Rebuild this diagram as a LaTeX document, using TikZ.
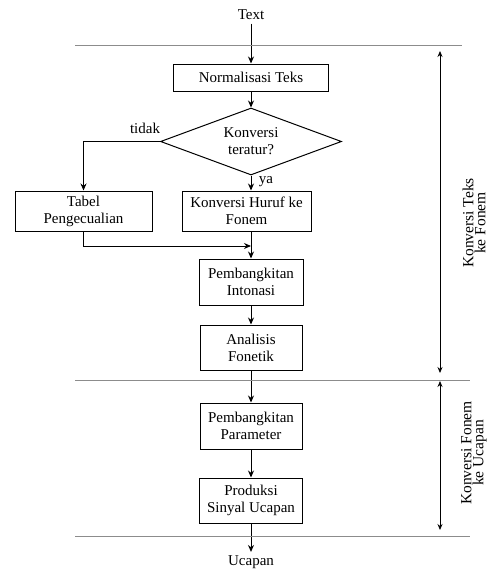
\documentclass[tikz,border=0pt]{standalone}
\usepackage{fontspec}
\setmainfont{Liberation Serif}
\usetikzlibrary{shapes.geometric,arrows.meta}
\definecolor{abu}{gray}{0.55}
\tikzset{
blok/.style={draw, rectangle, line width=1pt, align=center, inner sep=2pt},
panah/.style={-{Stealth[length=7pt,width=6pt]}, line width=1pt},
batas/.style={draw=abu, line width=0.9pt},
rentang/.style={{Stealth[length=6pt,width=5pt]}-{Stealth[length=6pt,width=5pt]}, line width=0.8pt}
}

\begin{document}
\begin{tikzpicture}[x=1pt, y=-1pt, font=\fontsize{15}{17}\selectfont]
\useasboundingbox (0,0) rectangle (495,570);

\node (text) at (251,15) {Text};
\node[blok, minimum width=155pt, minimum height=27pt, below of=text, node distance=62.5pt] (norm) {Normalisasi Teks};
\node[draw, diamond, aspect=2.7, line width=1pt, minimum width=181pt, minimum height=67pt, inner sep=0pt, align=center, below of=norm, node distance=64pt] (konv) {Konversi\\teratur?};
\node[blok, minimum width=129pt, minimum height=40pt, xshift=-4.5pt, below of=konv, node distance=69.5pt] (huruf) {Konversi Huruf ke\\Fonem};
\node[blok, minimum width=137pt, minimum height=40pt, left of=huruf, node distance=163pt] (tabel) {Tabel\\Pengecualian};
\node[blok, minimum width=104pt, minimum height=46pt, xshift=4.5pt, below of=huruf, node distance=71pt] (intonasi) {Pembangkitan\\Intonasi};
\node[blok, minimum width=102pt, minimum height=45pt, below of=intonasi, node distance=65.5pt] (fonetik) {Analisis\\Fonetik};
\node[blok, minimum width=102pt, minimum height=46pt, below of=fonetik, node distance=78.5pt] (parameter) {Pembangkitan\\Parameter};
\node[blok, minimum width=103pt, minimum height=45pt, below of=parameter, node distance=74.5pt] (produksi) {Produksi\\Sinyal Ucapan};
\node[below of=produksi, node distance=61.5pt] (ucapan) {Ucapan};

\node (tidak) at (145,128) {tidak};
\node (ya) at (266,182) {ya};
\coordinate (gabung) at (251,246);

\draw[panah] (text) -- (norm);
\draw[panah] (norm) -- (konv);
\draw[panah] (konv.south) -- (konv.south |- huruf.north);
\draw[panah] (konv.west) -| (tabel.north);
\draw[panah] (intonasi.north |- huruf.south) -- (intonasi);
\draw[panah] (tabel.south) |- (gabung);
\draw[panah] (intonasi) -- (fonetik);
\draw[panah] (fonetik) -- (parameter);
\draw[panah] (parameter) -- (produksi);
\draw[panah] (produksi) -- (ucapan);

\draw[batas] (75,45) -- (462,45);
\draw[batas] (75,380) -- (470,380);
\draw[batas] (75,536) -- (470,536);

\coordinate (t1) at (440,51);
\coordinate (t2) at (440,373);
\coordinate (t3) at (440,381);
\coordinate (t4) at (440,530);
\draw[rentang] (t1) -- (t2);
\draw[rentang] (t3) -- (t4);
\node[rotate=90, align=center, font=\fontsize{15.5}{12}\selectfont] (fase1) at (474,223) {Konversi Teks\\ke Fonem};
\node[rotate=90, align=center, font=\fontsize{15.5}{12}\selectfont] (fase2) at (474,453) {Konversi Fonem\\ke Ucapan};
\end{tikzpicture}
\end{document}
